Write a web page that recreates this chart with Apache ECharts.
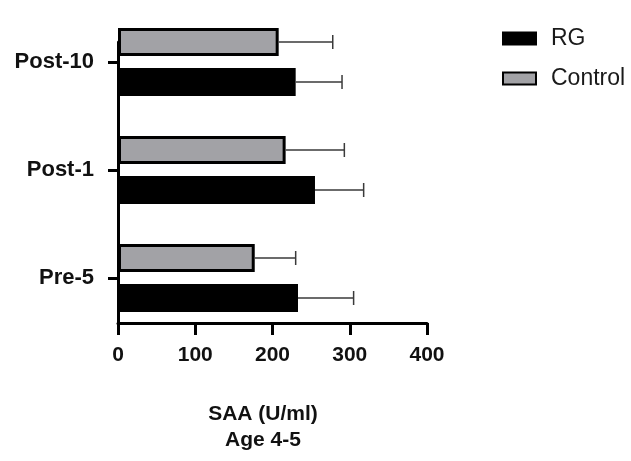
<!DOCTYPE html>
<html>
<head>
<meta charset="utf-8">
<script src="https://cdn.jsdelivr.net/npm/echarts@6/dist/echarts.min.js"></script>
<style>
  html, body { margin: 0; padding: 0; background: #fff; }
  #chart { width: 631px; height: 461px; }
</style>
</head>
<body>
<div id="chart"></div>
<script>
var categories = ['Pre-5', 'Post-1', 'Post-10']
var rgMean = [233, 255, 230]
var rgSd = [72, 63, 60]
var controlMean = [177, 217, 208]
var controlSd = [53, 76, 70]
var xTicks = [0, 100, 200, 300, 400]

var FONT = 'Liberation Sans, Arial, sans-serif'
var BAR_W = 28
var BAR_GAP = 12

function errorData (sd, mean) {
  return mean.map(function (m, i) { return [i, m, sd[i]] })
}

function errorBars (shift) {
  return function (params, api) {
    var cat = api.value(0)
    var start = api.coord([api.value(1), cat])
    var end = api.coord([api.value(1) + api.value(2), cat])
    var y = start[1] + shift
    var style = { stroke: '#3a3a3a', lineWidth: 1.5 }
    return {
      type: 'group',
      children: [
        { type: 'line', shape: { x1: start[0], y1: y, x2: end[0], y2: y }, style: style },
        { type: 'line', shape: { x1: end[0], y1: y - 7, x2: end[0], y2: y + 7 }, style: style }
      ]
    }
  }
}

var chart = echarts.init(document.getElementById('chart'))
var offset = (BAR_W + BAR_GAP) / 2

chart.setOption({
  animation: false,
  textStyle: { fontFamily: FONT },
  title: {
    text: 'SAA (U/ml)\nAge 4-5',
    left: 258,
    top: 396,
    textAlign: 'center',
    textStyle: { fontFamily: FONT, fontSize: 21, fontWeight: 'bold', color: '#111', lineHeight: 26 }
  },
  legend: {
    data: ['RG', 'Control'],
    orient: 'vertical',
    left: 497,
    top: 22,
    itemWidth: 33,
    itemHeight: 12,
    itemGap: 17,
    icon: 'rect',
    textStyle: { fontFamily: FONT, fontSize: 23, color: '#1a1a1a', padding: [0, 0, 0, 10] }
  },
  grid: [
    { left: 118, right: 204, top: 8, height: 324 },
    { left: 118, right: 204, top: 42, bottom: 138 }
  ],
  xAxis: [
    { gridIndex: 0, type: 'value', min: 0, max: 400, show: false },
    {
      gridIndex: 1,
      type: 'value',
      min: xTicks[0],
      max: xTicks[xTicks.length - 1],
      interval: 100,
      axisLine: { show: true, onZero: false, lineStyle: { color: '#000', width: 3 } },
      axisTick: { show: true, length: 12, lineStyle: { color: '#000', width: 3 } },
      axisLabel: { fontFamily: FONT, fontSize: 21, fontWeight: 'bold', color: '#111', margin: 22 },
      splitLine: { show: false }
    }
  ],
  yAxis: [
    {
      gridIndex: 0,
      type: 'category',
      data: categories,
      axisLine: { show: false },
      axisTick: { show: true, alignWithLabel: true, length: 10, lineStyle: { color: '#000', width: 3 } },
      axisLabel: { fontFamily: FONT, fontSize: 22, fontWeight: 'bold', color: '#111', margin: 24 }
    },
    {
      gridIndex: 1,
      type: 'value',
      min: 0,
      max: 1,
      axisLine: { show: true, onZero: false, lineStyle: { color: '#000', width: 3 } },
      axisTick: { show: false },
      axisLabel: { show: false },
      splitLine: { show: false }
    }
  ],
  series: [
    {
      name: 'Control',
      type: 'bar',
      data: controlMean,
      barWidth: BAR_W,
      barGap: (BAR_GAP / BAR_W * 100) + '%',
      itemStyle: { color: '#a2a2a6', borderColor: '#000', borderWidth: 3 }
    },
    {
      name: 'RG',
      type: 'bar',
      data: rgMean,
      barWidth: BAR_W,
      barGap: (BAR_GAP / BAR_W * 100) + '%',
      itemStyle: { color: '#000', borderColor: '#000', borderWidth: 3 }
    },
    {
      type: 'custom',
      renderItem: errorBars(-offset),
      data: errorData(controlSd, controlMean),
      encode: { x: [1, 2], y: 0 },
      z: 3
    },
    {
      type: 'custom',
      renderItem: errorBars(offset),
      data: errorData(rgSd, rgMean),
      encode: { x: [1, 2], y: 0 },
      z: 3
    }
  ]
})
</script>
</body>
</html>
